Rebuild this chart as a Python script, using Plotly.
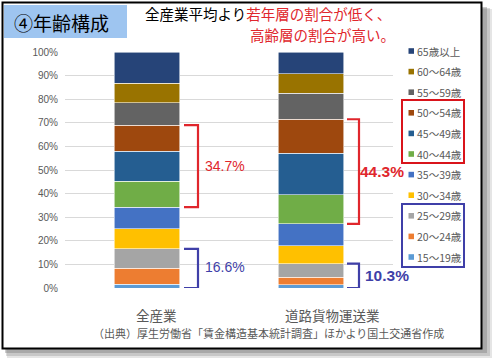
import plotly.graph_objects as go

# ---------------- data ----------------
categories = ["全産業", "道路貨物運送業"]
age_groups = ["15～19歳", "20～24歳", "25～29歳", "30～34歳", "35～39歳",
              "40～44歳", "45～49歳", "50～54歳", "55～59歳", "60～64歳", "65歳以上"]
all_industry = [1.6, 6.8, 8.2, 8.5, 9.2, 11.0, 12.7, 11.0, 9.5, 8.2, 13.3]
road_freight = [1.3, 3.3, 5.7, 7.5, 9.4, 12.3, 17.7, 14.3, 11.1, 8.2, 9.2]
colors = ["#5B9BD5", "#ED7D31", "#A5A5A5", "#FFC000", "#4472C4",
          "#70AD47", "#255E91", "#9E480E", "#636363", "#997300", "#264478"]
y_ticks = [0, 10, 20, 30, 40, 50, 60, 70, 80, 90, 100]

W, H = 494, 362
L, R, T, B = 65, 393, 52, 288  # plot area in px


def xp(px):
    return (px - L) / (R - L)


def yp(py):
    return (B - py) / (B - T)


FONT = "Noto Sans CJK JP"
GRAY = "#595959"
RED = "#E0262C"
BLUE = "#3F3FA8"

fig = go.Figure()
for i, ag in enumerate(age_groups):
    fig.add_trace(go.Bar(
        x=categories, y=[all_industry[i], road_freight[i]], name=ag,
        marker=dict(color=colors[i], line=dict(color="rgba(255,255,255,0.8)", width=0.7)),
        width=0.40, showlegend=False, hoverinfo="skip",
    ))

shapes = []
# shadow
for (x0, y0, x1, y1, op) in [(7, 9, 492, 358, 0.18), (6, 8, 490, 356, 0.25), (5, 7, 487, 353, 0.35)]:
    shapes.append(dict(type="rect", xref="paper", yref="paper", x0=xp(x0), x1=xp(x1), y0=yp(y0), y1=yp(y1),
                       fillcolor="#707070", opacity=op, line=dict(width=0), layer="below"))
# frame
shapes.append(dict(type="rect", xref="paper", yref="paper", x0=xp(2.5), x1=xp(481.5), y0=yp(2.5), y1=yp(348.5),
                   fillcolor="white", line=dict(color="black", width=2), layer="below"))
# title box
shapes.append(dict(type="rect", xref="paper", yref="paper", x0=xp(4), x1=xp(127), y0=yp(5), y1=yp(38),
                   fillcolor="#9EC5F0", line=dict(width=0), layer="below"))


def cum(vals, n):
    return sum(vals[:n])


def bracket(x0, x1, ylo, yhi, color):
    return dict(type="path", xref="paper", yref="y",
                path=f"M {xp(x0)} {yhi} L {xp(x1)} {yhi} L {xp(x1)} {ylo} L {xp(x0)} {ylo}",
                line=dict(color=color, width=2.2), layer="above")


# brackets: middle (40-54) = idx 5..7, young (15-29) = idx 0..2
shapes.append(bracket(184, 198, cum(all_industry, 5), cum(all_industry, 8), RED))
shapes.append(bracket(184, 198, 0, cum(all_industry, 3), BLUE))
shapes.append(bracket(347, 359, cum(road_freight, 5), cum(road_freight, 8), RED))
shapes.append(bracket(347, 359, 0, cum(road_freight, 3), BLUE))

# legend boxes
shapes.append(dict(type="rect", xref="paper", yref="paper", x0=xp(402), x1=xp(464), y0=yp(100), y1=yp(163),
                   line=dict(color="#D9141B", width=2), fillcolor="rgba(0,0,0,0)"))
shapes.append(dict(type="rect", xref="paper", yref="paper", x0=xp(402), x1=xp(464), y0=yp(204), y1=yp(267),
                   line=dict(color=BLUE, width=2), fillcolor="rgba(0,0,0,0)"))

annotations = []
# manual legend (top = 65歳以上)
leg_y0, leg_dy = 51, 20.6
for k, i in enumerate(reversed(range(len(age_groups)))):
    cy = leg_y0 + k * leg_dy
    shapes.append(dict(type="rect", xref="paper", yref="paper", x0=xp(408.5), x1=xp(414), y0=yp(cy - 2.8), y1=yp(cy + 2.8),
                       fillcolor=colors[i], line=dict(width=0)))
    annotations.append(dict(text=age_groups[i], xref="paper", yref="paper", x=xp(415), y=yp(cy),
                            xanchor="left", yanchor="middle", showarrow=False,
                            font=dict(family=FONT, size=10.5, color=GRAY)))

# title
annotations.append(dict(text="④年齢構成", xref="paper", yref="paper", x=xp(12), y=yp(22.5),
                        xanchor="left", yanchor="middle", showarrow=False,
                        font=dict(family=FONT, size=19, color="black")))
annotations.append(dict(text="全産業平均より<span style='color:" + RED + "'>若年層の割合が低く、</span>",
                        xref="paper", yref="paper", x=xp(143), y=yp(13.3),
                        xanchor="left", yanchor="middle", showarrow=False,
                        font=dict(family=FONT, size=14.5, color="black")))
annotations.append(dict(text="高齢層の割合が高い。", xref="paper", yref="paper", x=xp(397), y=yp(34.8),
                        xanchor="right", yanchor="middle", showarrow=False,
                        font=dict(family=FONT, size=14.5, color=RED)))

# bracket labels
mid_all = sum(all_industry[5:8])
young_all = sum(all_industry[0:3])
mid_road = sum(road_freight[5:8])
young_road = sum(road_freight[0:3])
annotations.append(dict(text=f"{mid_all:.1f}%", xref="paper", yref="y", x=xp(203), y=(cum(all_industry, 5) + cum(all_industry, 8)) / 2,
                        xanchor="left", yanchor="middle", showarrow=False,
                        font=dict(family="Liberation Sans", size=14, color=RED)))
annotations.append(dict(text=f"{young_all:.1f}%", xref="paper", yref="y", x=xp(203), y=cum(all_industry, 3) / 2 + 0.6,
                        xanchor="left", yanchor="middle", showarrow=False,
                        font=dict(family="Liberation Sans", size=14, color=BLUE)))
annotations.append(dict(text=f"<b>{mid_road:.1f}%</b>", xref="paper", yref="y", x=xp(358), y=(cum(road_freight, 5) + cum(road_freight, 8)) / 2,
                        xanchor="left", yanchor="middle", showarrow=False,
                        font=dict(family="Liberation Sans", size=15.5, color=RED)))
annotations.append(dict(text=f"<b>{young_road:.1f}%</b>", xref="paper", yref="y", x=xp(363), y=cum(road_freight, 3) / 2,
                        xanchor="left", yanchor="middle", showarrow=False,
                        font=dict(family="Liberation Sans", size=15.5, color=BLUE)))

# category labels
for name, cx in zip(categories, [156, 332]):
    annotations.append(dict(text=name, xref="paper", yref="paper", x=xp(cx), y=yp(315),
                            xanchor="center", yanchor="middle", showarrow=False,
                            font=dict(family=FONT, size=13.5, color=GRAY)))
# source
annotations.append(dict(text="（出典）厚生労働省「賃金構造基本統計調査」ほかより国土交通省作成",
                        xref="paper", yref="paper", x=xp(268), y=yp(333),
                        xanchor="center", yanchor="middle", showarrow=False,
                        font=dict(family=FONT, size=11, color=GRAY)))

fig.update_layout(
    width=W, height=H, barmode="stack",
    margin=dict(l=L, r=W - R, t=T, b=H - B, pad=0),
    paper_bgcolor="white", plot_bgcolor="rgba(0,0,0,0)",
    shapes=shapes, annotations=annotations, showlegend=False,
    bargap=0.6, hovermode=False,
)
fig.update_xaxes(showticklabels=False, showgrid=False, zeroline=False, showline=False, ticks="")
fig.update_yaxes(range=[0, 100], tickvals=y_ticks, ticktext=[f"{v}%" for v in y_ticks],
                 showgrid=True, gridcolor="#D9D9D9", gridwidth=1, zeroline=False, showline=False,
                 tickfont=dict(family="Liberation Sans", size=10, color=GRAY), ticklabelstandoff=6)

fig.write_html("out.html", config={"displayModeBar": False},
               post_script="document.body.style.margin='0px';document.body.style.overflow='hidden';")
